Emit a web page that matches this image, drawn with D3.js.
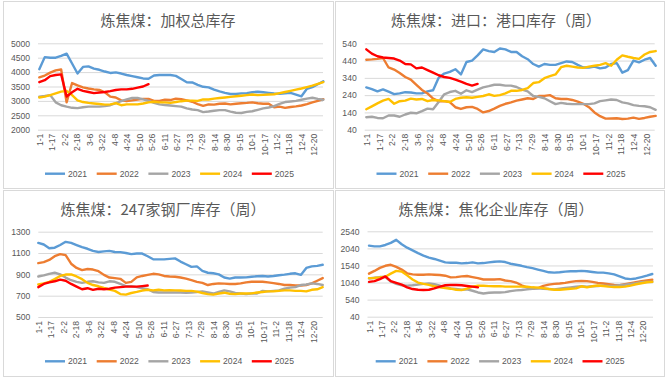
<!DOCTYPE html>
<html><head><meta charset="utf-8">
<script src="https://cdn.jsdelivr.net/npm/d3@7"></script>
<style>
html,body{margin:0;padding:0;background:#fff;}
svg{display:block;}
text{font-family:"Liberation Sans","Noto Sans CJK SC",sans-serif;}
</style></head>
<body>
<svg id="chart" width="666" height="378"></svg>
<script>
// ---------- DATA ----------
const years = ["2021","2022","2023","2024","2025"];
const colors = ["#5B9BD5","#ED7D31","#A5A5A5","#FFC000","#FF0000"];
const xLabels = ["1-1","1-17","2-2","2-18","3-6","3-22","4-8","4-24","5-10","5-26","6-11","6-27","7-13","7-29","8-14","8-30","9-15","10-1","10-17","11-2","11-18","12-4","12-20"];

// Panel 1: 加权总库存 (weekly values)
const total2021 = [4100,4520,4500,4500,4560,4640,4300,3950,4180,4200,4120,4080,4020,3970,3990,3950,3900,3860,3820,3780,3770,3880,3900,3900,3900,3870,3760,3650,3640,3560,3490,3470,3390,3330,3280,3240,3240,3260,3270,3300,3320,3300,3280,3260,3250,3260,3280,3220,3160,3420,3480,3580,3680];
const total2022 = [3820,3880,3980,4060,4090,2950,3620,3540,3470,3430,3400,3380,3300,3150,3120,3020,2990,3020,3050,3070,3070,3000,3000,3040,3030,3080,3060,3020,2970,2890,2830,2880,2870,2900,2910,2880,2900,2920,2930,2950,2920,2900,2900,2780,2800,2760,2790,2810,2840,2890,2950,3000,3060];
const total2023 = [3150,3170,3200,2950,2850,2800,2760,2750,2780,2800,2800,2800,2820,2850,2920,2990,3050,3100,3100,3050,3000,2930,2880,2860,2840,2820,2800,2740,2700,2680,2610,2630,2660,2680,2680,2630,2590,2580,2620,2640,2690,2740,2770,2820,2900,2960,2980,3000,3040,3080,3110,3070,3040];
const total2024 = [3120,3150,3200,3260,3320,3350,3200,3020,2960,2930,2910,2890,2870,2880,2920,2850,2880,2880,2880,2910,2950,2970,2950,2950,2930,2960,2990,3010,3010,3000,3050,3050,3080,3100,3120,3140,3160,3180,3200,3220,3200,3210,3220,3230,3270,3310,3350,3390,3430,3480,3530,3590,3650];
const total2025 = [3650,3720,3860,3900,3920,3150,3300,3420,3350,3310,3270,3290,3310,3340,3380,3400,3400,3420,3460,3500,3580];

// Panel 2: 进口：港口库存（周）
const port2021 = [285,275,262,273,260,246,250,257,255,250,250,262,268,340,365,375,390,360,432,440,470,505,495,490,510,505,490,490,465,448,420,405,420,415,415,425,435,432,415,400,400,405,395,400,420,425,370,385,440,430,445,455,410];
const port2022 = [445,447,450,455,400,388,368,345,330,300,270,250,220,205,205,200,170,160,170,172,160,140,148,162,178,190,198,208,215,222,218,235,236,240,222,218,218,212,202,190,170,140,118,104,105,106,102,104,110,103,108,115,120];
const port2023 = [112,115,108,106,122,122,115,128,138,135,148,162,158,200,245,258,265,248,268,258,272,285,292,300,300,295,295,287,272,262,235,230,222,205,188,195,190,188,188,188,188,192,205,210,215,212,198,192,182,178,176,170,155];
const port2024 = [158,175,192,208,218,190,205,208,220,215,218,205,212,210,205,200,218,225,228,225,230,235,245,236,240,250,265,265,270,280,310,315,338,350,360,402,410,405,400,398,405,410,415,425,410,445,470,462,455,450,475,490,495];
const port2025 = [505,480,465,458,455,452,440,420,418,395,400,385,370,355,345,340,330,318,305,295,305];

// Panel 3: 247家钢厂库存（周）
const mill2021 = [1195,1180,1145,1150,1175,1205,1195,1175,1155,1140,1120,1110,1115,1120,1110,1108,1100,1090,1095,1095,1070,1042,1040,1040,1045,1050,1020,995,970,975,932,915,910,900,870,860,870,870,872,878,882,885,880,885,892,897,905,910,895,960,975,980,990];
const mill2022 = [1005,1015,1035,1070,1090,1080,1000,960,940,950,945,930,895,870,865,858,820,830,872,885,895,905,900,885,880,878,870,860,845,830,820,800,810,815,813,810,810,815,825,830,830,830,825,818,810,800,800,795,795,800,815,840,865];
const mill2023 = [880,890,905,915,900,870,845,830,820,830,835,825,820,835,830,810,790,790,780,770,760,735,730,730,730,730,730,728,730,735,740,730,720,735,750,740,725,720,715,720,720,745,740,745,750,765,775,780,800,805,815,810,800];
const mill2024 = [805,815,830,855,885,898,900,880,855,820,800,788,772,758,745,715,710,725,735,748,755,750,755,750,752,750,748,745,745,738,725,715,710,720,728,718,715,720,720,722,730,735,740,740,745,750,750,745,745,740,755,760,780];
const mill2025 = [780,810,825,835,850,840,810,785,760,770,755,765,760,765,775,780,785,785,785,790,795];

// Panel 4: 焦化企业库存（周）
const coke2021 = [2120,2100,2100,2140,2200,2290,2160,2060,1980,1900,1830,1770,1730,1680,1630,1620,1620,1600,1610,1630,1600,1610,1630,1650,1660,1640,1590,1560,1530,1490,1460,1420,1380,1340,1330,1340,1360,1370,1370,1380,1370,1350,1330,1330,1310,1280,1220,1160,1140,1160,1200,1240,1290];
const coke2022 = [1300,1380,1470,1530,1560,1500,1420,1310,1280,1270,1270,1280,1270,1260,1240,1190,1200,1220,1230,1200,1170,1130,1130,1130,1140,1100,1080,1040,960,900,860,880,940,980,1000,1010,1030,1060,1080,1090,1080,1060,1030,1010,990,970,960,990,1020,1050,1080,1100,1120];
const coke2023 = [1160,1180,1200,1200,1070,1000,960,950,960,980,1000,1010,990,950,900,870,850,830,840,800,750,720,740,750,750,760,790,810,820,840,860,870,860,850,840,860,880,900,920,930,920,930,940,950,940,940,960,980,1000,1020,1050,1060,1060];
const coke2024 = [1170,1175,1190,1210,1300,1380,1360,1250,1130,1040,1000,970,930,900,880,860,830,820,860,920,950,945,935,930,935,920,920,920,920,915,900,890,875,850,830,830,845,860,870,930,900,930,955,940,920,910,910,920,950,990,1020,1050,1060];
const coke2025 = [1060,1080,1140,1220,1080,1030,980,900,850,830,820,830,870,920,960,970,970,960,940,920,900];

const titles = ["炼焦煤：加权总库存","炼焦煤：进口：港口库存（周）","炼焦煤：247家钢厂库存（周）","炼焦煤：焦化企业库存（周）"];
const yTicks1 = [2000,2500,3000,3500,4000,4500,5000];
const yTicks2 = [40,140,240,340,440,540];
const yTicks3 = [500,700,900,1100,1300];
const yTicks4 = [40,540,1040,1540,2040,2540];

// ---------- LAYOUT ----------
const panels = [
  {title:titles[0], series:[total2021,total2022,total2023,total2024,total2025], ticks:yTicks1,
   box:[3,1,333,188], gx:[38,323], px:[39.3,323.3], py:[129.7,43.3], tx:39.5, ty:26, tlx:168, ly:173.7, lx:45},
  {title:titles[1], series:[port2021,port2022,port2023,port2024,port2025], ticks:yTicks2,
   box:[335,1,664,188], gx:[364.7,654.7], px:[366.3,655.7], py:[129.7,43.3], tx:26, ty:26, tlx:496, ly:173.7, lx:376.5},
  {title:titles[2], series:[mill2021,mill2022,mill2023,mill2024,mill2025], ticks:yTicks3,
   box:[3,190,333,376], gx:[38.3,322.7], px:[38.3,322.7], py:[317,231.7], tx:40, ty:215, tlx:163, ly:361.3, lx:45},
  {title:titles[3], series:[coke2021,coke2022,coke2023,coke2024,coke2025], ticks:yTicks4,
   box:[335,190,664,376], gx:[367.5,653], px:[369,652.3], py:[316.7,231.3], tx:36, ty:215, tlx:496, ly:361.3, lx:375.7}
];

const svg = d3.select("#chart");
svg.append("rect").attr("width",666).attr("height",378).attr("fill","#fff");

panels.forEach(p => {
  const g = svg.append("g");
  const [bx0,by0,bx1,by1] = p.box;
  g.append("rect").attr("x",bx0+0.5).attr("y",by0+0.5).attr("width",bx1-bx0).attr("height",by1-by0)
    .attr("fill","#fff").attr("stroke","#d9d9d9").attr("stroke-width",1);

  // title
  g.append("text").attr("x",p.tlx).attr("y",p.ty).attr("text-anchor","middle")
    .style("font-family","'Noto Sans CJK SC',sans-serif").style("font-size","15px").attr("fill","#595959")
    .text(p.title);

  const x = d3.scaleLinear().domain([0,364]).range(p.px);
  const yMin = d3.min(p.ticks), yMax = d3.max(p.ticks);
  const y = d3.scaleLinear().domain([yMin,yMax]).range(p.py);

  // gridlines + y labels
  const yAxis = d3.axisLeft(y).tickValues(p.ticks).tickSize(-(p.gx[1]-p.gx[0])).tickPadding(8).tickFormat(d3.format("d"));
  const ya = g.append("g").attr("transform",`translate(${p.gx[0]},0)`).call(yAxis);
  ya.select(".domain").remove();
  ya.selectAll(".tick line").attr("stroke","#d9d9d9").attr("stroke-width",1);
  ya.selectAll(".tick text").attr("fill","#595959").style("font-size","8.6px").style("font-family","'Liberation Sans',sans-serif");

  // x labels (rotated)
  const xAxis = d3.axisBottom(x).tickValues(xLabels.map((d,i)=>i*16)).tickSize(0).tickFormat((d,i)=>xLabels[i]);
  const xa = g.append("g").attr("transform",`translate(0,${p.py[0]})`).call(xAxis);
  xa.select(".domain").remove();
  xa.selectAll(".tick text").attr("fill","#595959").style("font-size","8.6px").style("font-family","'Liberation Sans',sans-serif")
    .attr("transform","rotate(-90)").attr("text-anchor","end").attr("x",-4).attr("y",0).attr("dy","0.35em");

  // lines
  const line = d3.line().x((d,i)=>x(i*7)).y(d=>y(d)).curve(d3.curveLinear);
  p.series.forEach((s,k) => {
    g.append("path").datum(s).attr("d",line).attr("fill","none")
      .attr("stroke",colors[k]).attr("stroke-width",2.4).attr("stroke-linejoin","round").attr("stroke-linecap","round");
  });

  // legend
  years.forEach((yr,k) => {
    const lx = p.lx + k*51.7;
    g.append("line").attr("x1",lx).attr("x2",lx+20).attr("y1",p.ly).attr("y2",p.ly)
      .attr("stroke",colors[k]).attr("stroke-width",2.4);
    g.append("text").attr("x",lx+23).attr("y",p.ly).attr("dy","0.35em").attr("fill","#595959")
      .style("font-size","8.6px").text(yr);
  });
});
</script>
</body></html>
